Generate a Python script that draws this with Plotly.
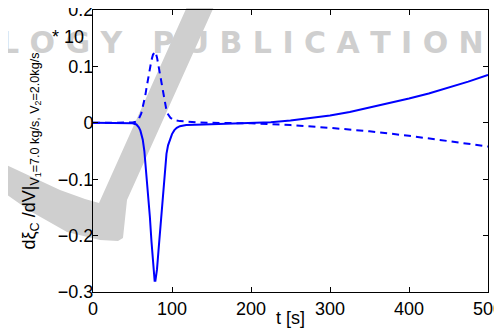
import plotly.graph_objects as go

# ---- data ----
t_solid = [0, 20, 40, 50, 55, 58, 60, 62, 63, 65, 66, 68, 70, 72, 74, 76, 78, 79, 81, 83, 85, 87,
           89, 91, 93, 95, 97.5, 100, 103, 106, 110, 118, 140, 160, 180, 200, 225, 250, 275, 300,
           325, 350, 375, 400, 425, 450, 475, 500]
v_solid = [0, 0, 0, -0.001, -0.003, -0.008, -0.014, -0.022, -0.03, -0.05, -0.066, -0.1, -0.135,
           -0.167, -0.21, -0.255, -0.28, -0.28, -0.26, -0.225, -0.19, -0.16, -0.12, -0.08, -0.055,
           -0.04, -0.03, -0.02, -0.013, -0.009, -0.006, -0.004, -0.003, -0.002, -0.001, 0.0, 0.001,
           0.004, 0.008, 0.013, 0.019, 0.027, 0.034, 0.043, 0.052, 0.062, 0.073, 0.085]

t_dashed = [0, 40, 50, 55, 58, 61, 64, 66, 68, 70, 72, 74, 76, 78, 79, 81, 83, 85, 87, 89, 91, 93,
            95, 98, 102, 110, 130, 150, 200, 250, 300, 350, 400, 450, 500]
v_dashed = [0, 0, 0.0005, 0.002, 0.007, 0.016, 0.032, 0.047, 0.064, 0.08, 0.097, 0.111, 0.121,
            0.126, 0.126, 0.116, 0.1, 0.082, 0.064, 0.047, 0.033, 0.022, 0.015, 0.009, 0.005,
            0.003, 0.001, 0.0, -0.001, -0.004, -0.009, -0.015, -0.023, -0.032, -0.042]

x_ticks = [0, 100, 200, 300, 400, 500]
y_ticks = [-0.3, -0.2, -0.1, 0, 0.1, 0.2]
y_ticktext = ["\u22120.3", "\u22120.2", "\u22120.1", "0", "0.1", "0.2"]

# ---- layout geometry (page pixels; the page body adds an 8px offset) ----
OFF = 8
W, H = 502 - OFF, 334 - OFF
ML, MR, MT, MB = 93 - OFF, 14, 10 - OFF, 42
PW, PH = W - ML - MR, H - MT - MB


def px(x, y):
    """page pixel -> paper coordinates"""
    return (x - OFF - ML) / PW, (H - MB - (y - OFF)) / PH


# watermark swoosh (background decoration of the source page)
sw = [(-10, 157), (0, 162), (30, 176), (60, 190), (85, 199), (99, 203), (190, 0), (195, -10),
      (222, -10), (217, 0), (131.5, 190), (127, 200), (123, 238), (118, 241), (100, 240),
      (67, 232), (30, 211), (0, 190), (-10, 184)]
path = "M " + " L ".join("%.4f,%.4f" % px(a, b) for a, b in sw) + " Z"

BLUE = "#0000ff"
FONT = "Liberation Sans, Arial, sans-serif"
GRAY = "#cfcfcf"

fig = go.Figure()
fig.add_trace(go.Scatter(x=t_dashed, y=v_dashed, mode="lines",
                         line=dict(color=BLUE, width=2, dash="7px,5px"), hoverinfo="skip"))
fig.add_trace(go.Scatter(x=t_solid, y=v_solid, mode="lines",
                         line=dict(color=BLUE, width=2), hoverinfo="skip"))

fig.update_layout(
    width=W, height=H,
    margin=dict(l=ML, r=MR, t=MT, b=MB, pad=0, autoexpand=False),
    paper_bgcolor="white", plot_bgcolor="rgba(0,0,0,0)",
    showlegend=False,
    font=dict(family=FONT, size=18, color="black"),
    shapes=[dict(type="path", path=path, xref="paper", yref="paper", layer="below",
                 fillcolor=GRAY, line=dict(width=0))],
    annotations=[
        dict(text="L O G Y\u2002\u2002P U B L I C A T I O N S", xref="paper", yref="paper",
             x=px(-2, 0)[0], y=px(0, 42)[1], xanchor="left", yanchor="middle", showarrow=False,
             font=dict(family="DejaVu Sans", size=30, color=GRAY, weight="bold")),
        dict(text="* 10", xref="paper", yref="paper", x=px(86, 0)[0], y=px(0, 37)[1],
             xanchor="right", yanchor="middle", showarrow=False, font=dict(size=18)),
        dict(text="t [s]", xref="paper", yref="paper", x=0.5, y=px(0, 318)[1],
             xanchor="center", yanchor="middle", showarrow=False, font=dict(size=18)),
    ],
)
fig.update_xaxes(range=[0, 500], tickvals=x_ticks, ticktext=[str(v) for v in x_ticks],
                 ticks="inside", ticklen=5, tickcolor="black", showline=True, linecolor="black",
                 linewidth=1, mirror="ticks", showgrid=False, zeroline=False, automargin=False,
                 ticklabeloverflow="allow")
fig.update_yaxes(range=[-0.3, 0.2], tickvals=y_ticks, ticktext=y_ticktext,
                 ticks="inside", ticklen=5, tickcolor="black", showline=True, linecolor="black",
                 linewidth=1, mirror="ticks", showgrid=False, zeroline=False, automargin=False,
                 ticklabeloverflow="allow", ticklabelstandoff=-5,
                 title=dict(text="d\u03be<sub>C</sub> /dV|<sub>V<sub>1</sub>=7.0 kg/s, V<sub>2</sub>=2.0kg/s</sub>",
                            standoff=17, font=dict(size=18)))

fig.write_html("out.html")
